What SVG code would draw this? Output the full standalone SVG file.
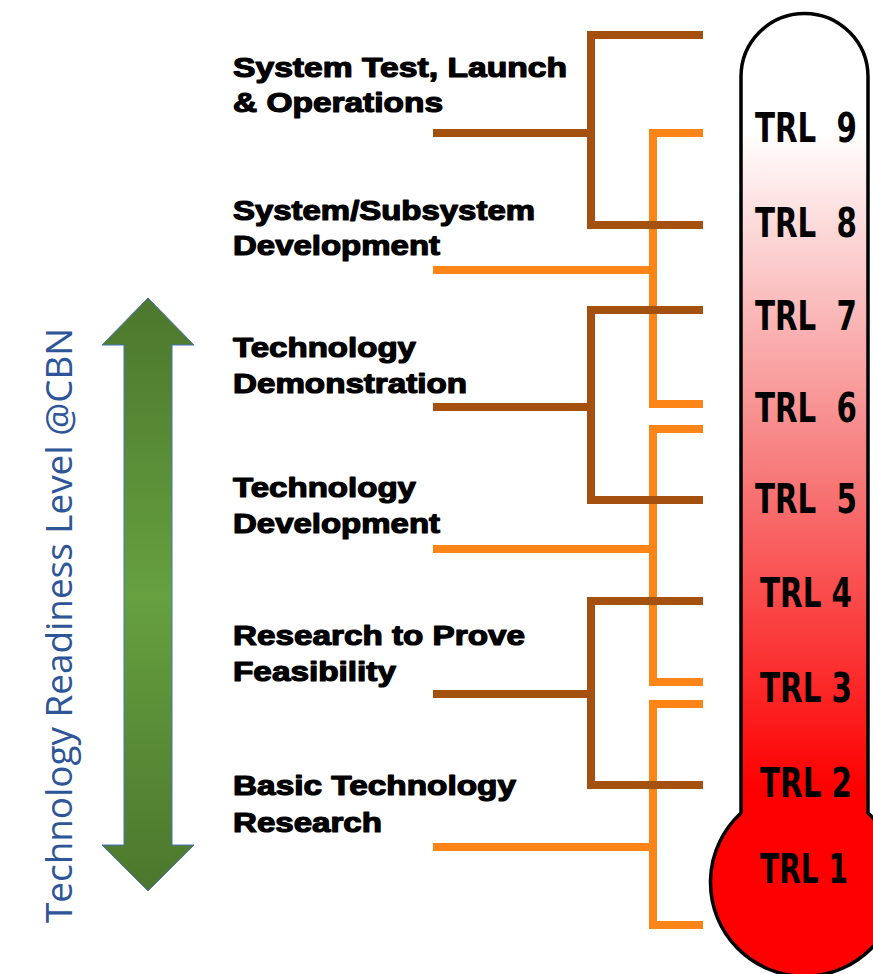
<svg xmlns="http://www.w3.org/2000/svg" width="873" height="974" viewBox="0 0 873 974">
<style>
.lbl{font-family:"Liberation Sans",Arial,sans-serif;font-weight:bold;font-size:27px;fill:#000;stroke:#000;stroke-width:1.2px;stroke-linejoin:round}
.trl{font-family:"Liberation Sans Narrow","DejaVu Sans Condensed","Liberation Sans",sans-serif;font-stretch:condensed;font-weight:bold;font-size:36px;fill:#000;white-space:pre}
.br{fill:none;stroke:#a4510f;stroke-width:8;stroke-linejoin:miter;stroke-linecap:butt}
.or{fill:none;stroke:#fd8417;stroke-width:8;stroke-linejoin:miter;stroke-linecap:butt}
.side{font-family:"Open Sans","Liberation Sans",sans-serif;font-weight:normal;font-size:37px;fill:#2e5597}
</style>
<defs>
<linearGradient id="therm" gradientUnits="userSpaceOnUse" x1="0" y1="130" x2="0" y2="790">
<stop offset="0" stop-color="#ffffff"/>
<stop offset="0.5" stop-color="#f77f7f"/>
<stop offset="1" stop-color="#fe0000"/>
</linearGradient>
<linearGradient id="arrowg" gradientUnits="userSpaceOnUse" x1="0" y1="298" x2="0" y2="891">
<stop offset="0" stop-color="#4c772d"/>
<stop offset="0.5" stop-color="#66a03f"/>
<stop offset="1" stop-color="#4c772d"/>
</linearGradient>
</defs>
<rect width="873" height="974" fill="#ffffff"/>

<g id="thermometer">
<path d="M741,813 V77 A63.5,63.5 0 0 1 868,77 V813 A94,94 0 1 1 741,813 Z" fill="url(#therm)" stroke="#000" stroke-width="3.5"/>
</g>

<g id="trl9"><text class="trl" transform="translate(755,142) scale(1,1.15)" textLength="102" lengthAdjust="spacingAndGlyphs" xml:space="preserve">TRL  9</text></g>
<g id="trl8"><text class="trl" transform="translate(755,237) scale(1,1.15)" textLength="102" lengthAdjust="spacingAndGlyphs" xml:space="preserve">TRL  8</text></g>
<g id="trl7"><text class="trl" transform="translate(755,330) scale(1,1.15)" textLength="102" lengthAdjust="spacingAndGlyphs" xml:space="preserve">TRL  7</text></g>
<g id="trl6"><text class="trl" transform="translate(755,422) scale(1,1.15)" textLength="102" lengthAdjust="spacingAndGlyphs" xml:space="preserve">TRL  6</text></g>
<g id="trl5"><text class="trl" transform="translate(755,513) scale(1,1.15)" textLength="102" lengthAdjust="spacingAndGlyphs" xml:space="preserve">TRL  5</text></g>
<g id="trl4"><text class="trl" transform="translate(760,607) scale(1,1.15)" textLength="92" lengthAdjust="spacingAndGlyphs">TRL 4</text></g>
<g id="trl3"><text class="trl" transform="translate(760,702) scale(1,1.15)" textLength="92" lengthAdjust="spacingAndGlyphs">TRL 3</text></g>
<g id="trl2"><text class="trl" transform="translate(760,797) scale(1,1.15)" textLength="92" lengthAdjust="spacingAndGlyphs">TRL 2</text></g>
<g id="trl1"><text class="trl" transform="translate(760,883) scale(1,1.15)" textLength="88" lengthAdjust="spacingAndGlyphs">TRL 1</text></g>

<g id="connectors">
<polyline class="or" points="703,133 653,133 653,404 703,404"/>
<line class="or" x1="433" y1="270" x2="653" y2="270"/>
<polyline class="or" points="703,429 653,429 653,682 703,682"/>
<line class="or" x1="433" y1="549" x2="653" y2="549"/>
<polyline class="or" points="703,704 653,704 653,925 703,925"/>
<line class="or" x1="433" y1="847" x2="653" y2="847"/>
<polyline class="br" points="703,35 591,35 591,225 703,225"/>
<line class="br" x1="433" y1="133" x2="591" y2="133"/>
<polyline class="br" points="703,310 591,310 591,500 703,500"/>
<line class="br" x1="433" y1="407" x2="591" y2="407"/>
<polyline class="br" points="703,601 591,601 591,785 703,785"/>
<line class="br" x1="433" y1="694" x2="591" y2="694"/>
</g>

<g id="stage-system-test">
<text class="lbl" x="233" y="77" textLength="334" lengthAdjust="spacingAndGlyphs">System Test, Launch</text>
<text class="lbl" x="233" y="112" textLength="210" lengthAdjust="spacingAndGlyphs">&amp; Operations</text>
</g>
<g id="stage-subsystem">
<text class="lbl" x="233" y="220" textLength="302" lengthAdjust="spacingAndGlyphs">System/Subsystem</text>
<text class="lbl" x="233" y="255" textLength="207" lengthAdjust="spacingAndGlyphs">Development</text>
</g>
<g id="stage-demonstration">
<text class="lbl" x="233" y="357" textLength="183" lengthAdjust="spacingAndGlyphs">Technology</text>
<text class="lbl" x="233" y="393" textLength="234" lengthAdjust="spacingAndGlyphs">Demonstration</text>
</g>
<g id="stage-tech-development">
<text class="lbl" x="233" y="497" textLength="183" lengthAdjust="spacingAndGlyphs">Technology</text>
<text class="lbl" x="233" y="533" textLength="207" lengthAdjust="spacingAndGlyphs">Development</text>
</g>
<g id="stage-feasibility">
<text class="lbl" x="233" y="645" textLength="292" lengthAdjust="spacingAndGlyphs">Research to Prove</text>
<text class="lbl" x="233" y="681" textLength="163" lengthAdjust="spacingAndGlyphs">Feasibility</text>
</g>
<g id="stage-basic">
<text class="lbl" x="233" y="795" textLength="283" lengthAdjust="spacingAndGlyphs">Basic Technology</text>
<text class="lbl" x="233" y="832" textLength="149" lengthAdjust="spacingAndGlyphs">Research</text>
</g>

<g id="trl-arrow">
<polygon points="148,298 194,345 172,345 172,845 194,845 148,891 102,845 124,845 124,345 102,345" fill="url(#arrowg)" stroke="#4472c4" stroke-width="1"/>
</g>

<g id="side-label">
<text class="side" transform="translate(72,625.5) rotate(-90)" x="0" y="0" text-anchor="middle" textLength="595" lengthAdjust="spacingAndGlyphs">Technology Readiness Level @CBN</text>
</g>
</svg>
